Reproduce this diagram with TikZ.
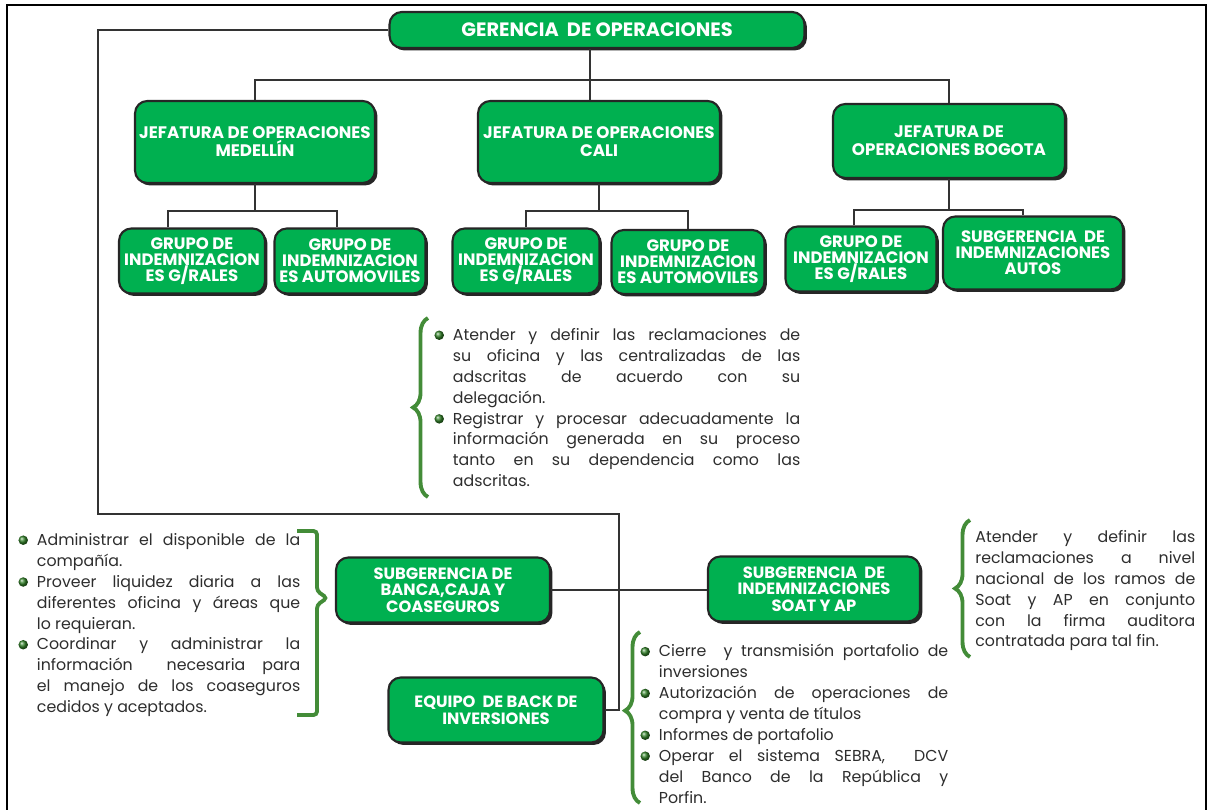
\documentclass[tikz,border=0pt]{standalone}
\usepackage{fontspec}
\setmainfont{Poppins}
\usetikzlibrary{shadows,decorations.pathreplacing}

\definecolor{cajaverde}{RGB}{0,176,80}
\definecolor{llaveverde}{RGB}{67,140,56}
\definecolor{bolaverde}{RGB}{50,130,40}
\definecolor{texto}{RGB}{45,45,45}

% vinetas verdes de las listas
\newcommand\bolita{\raisebox{0.05ex}{\tikz\shade[ball color=bolaverde] (0,0) circle (2.7pt);}}
\newlength\sangria
\setlength\sangria{10pt}
\newcommand\vineta{\noindent\leftskip=\sangria\llap{\makebox[\sangria][l]{\hspace{-0.5pt}\bolita}}}

\tikzset{
  caja/.style={draw=black!85, line width=1.2pt, fill=cajaverde, rounded corners=7pt,
    text=white, font=\bfseries\fontsize{9.3}{9.4}\selectfont, align=center, inner sep=2pt,
    drop shadow={shadow xshift=1.4pt, shadow yshift=-1.4pt, opacity=0.85, fill=black}},
  jefe/.style={caja, font=\bfseries\fontsize{9.5}{10.2}\selectfont},
  grupo/.style={caja, font=\bfseries\fontsize{9.4}{9.2}\selectfont},
  linea/.style={draw=black!80, line width=0.7pt},
  llave/.style={draw=llaveverde, line width=2.2pt, decorate, decoration={brace, amplitude=8.5pt}},
  lista/.style={anchor=north west, inner sep=0pt, text=texto, align=justify,
    font=\fontsize{9}{11.9}\selectfont},
}

\begin{document}
\begin{tikzpicture}[x=0.02cm, y=-0.02cm]
    \useasboundingbox (0,0) rectangle (1208,810);
    % Marco
    \draw[line width=1.6pt] (7,810) -- (7,5) -- (1206,5) -- (1206,810);

    % Gerencia y jefaturas
    \node[caja, minimum width=8.3cm, minimum height=0.72cm, font=\bfseries\fontsize{11}{12}\selectfont] (ger) at (597,30) {GERENCIA\ \ DE OPERACIONES};
    \node[jefe, minimum width=4.8cm, minimum height=1.64cm] (med) at (255,142) {JEFATURA DE OPERACIONES\\MEDELLÍN};
    \node[jefe, minimum width=4.84cm, minimum height=1.64cm] (cal) at (599,142) {JEFATURA DE OPERACIONES\\CALI};
    \node[jefe, minimum width=4.64cm, minimum height=1.48cm] (bog) at (949,141) {JEFATURA DE\\OPERACIONES BOGOTA};

    % Grupos
    \node[grupo, minimum width=2.92cm, minimum height=1.3cm] (medg) at (192,261) {GRUPO DE\\INDEMNIZACION\\ES G/RALES};
    \node[grupo, minimum width=3.02cm, minimum height=1.3cm] (meda) at (350,261) {GRUPO DE\\INDEMNIZACION\\ES AUTOMOVILES};
    \node[grupo, minimum width=2.94cm, minimum height=1.3cm] (calg) at (526,261) {GRUPO DE\\INDEMNIZACION\\ES G/RALES};
    \node[grupo, minimum width=3.06cm, minimum height=1.28cm] (cala) at (688,262) {GRUPO DE\\INDEMNIZACION\\ES AUTOMOVILES};
    \node[grupo, minimum width=3.02cm, minimum height=1.3cm] (bogg) at (861,259) {GRUPO DE\\INDEMNIZACION\\ES G/RALES};
    \node[grupo, minimum width=3.6cm, minimum height=1.46cm] (boga) at (1033,253) {SUBGERENCIA\ \ DE\\INDEMNIZACIONES\\AUTOS};

    % Subgerencias y equipo
    \node[caja, minimum width=4.28cm, minimum height=1.3cm] (banca) at (443,590) {SUBGERENCIA DE\\BANCA,CAJA Y\\COASEGUROS};
    \node[caja, minimum width=4.24cm, minimum height=1.3cm] (soat) at (814,589) {SUBGERENCIA\ \ DE\\INDEMNIZACIONES\\SOAT Y AP};
    \node[caja, minimum width=4.3cm, minimum height=1.3cm, font=\bfseries\fontsize{9.3}{9.8}\selectfont] (equipo) at (496,710) {EQUIPO\ \ DE BACK DE\\INVERSIONES};

    % Conectores
    \coordinate (barra) at (590,80);
    \draw[linea] (ger.south -| barra) -- (cal.north -| barra);
    \draw[linea] (med.north) |- (barra) -| (bog.north);
    \draw[linea] (med.south) -- ++(0,27) coordinate (bmed);
    \draw[linea] ([xshift=-0.48cm]medg.north) |- (bmed) -| ([xshift=-0.26cm]meda.north);
    \draw[linea] (cal.south) -- ++(0,27) coordinate (bcal);
    \draw[linea] (calg.north) |- (bcal) -| (cala.north);
    \draw[linea] (bog.south) -- ++(0,31) coordinate (bbog);
    \draw[linea] ([xshift=-0.14cm]bogg.north) |- (bbog) -| ([xshift=-0.2cm]boga.north);
    \coordinate (esq1) at (98,514);
    \coordinate (esq2) at (619,514);
    \draw[linea] (ger.west) -| (esq1) -- (esq2) |- (equipo.east);
    \draw[linea] (banca.east) -- (banca.east -| soat.west);

    % Listas
    \node[lista, text width=7.3cm] (lmed) at (435,328) {%
      \vineta Atender y definir las reclamaciones de\linebreak su oficina y las centralizadas de las\linebreak adscritas de acuerdo con su\linebreak delegación.\par
      \vineta Registrar y procesar adecuadamente la\linebreak información generada en su proceso\linebreak tanto en su dependencia como las\linebreak adscritas.\par};
    \node[lista, text width=5.62cm] (lban) at (19,533) {%
      \vineta Administrar el disponible de la\linebreak compañía.\par
      \vineta Proveer liquidez diaria a las\linebreak diferentes oficina y áreas que\linebreak lo requieran.\par
      \vineta Coordinar y administrar la\linebreak información\ \ necesaria para\linebreak el manejo de los coaseguros\linebreak cedidos y aceptados.\par};
    \node[lista, text width=4.4cm] (lsoat) at (975,530) {%
      \noindent Atender y definir las\linebreak reclamaciones a nivel\linebreak nacional de los ramos de\linebreak Soat y AP en conjunto\linebreak con la firma auditora\linebreak contratada para tal fin.};
    \node[lista, text width=6.14cm] (lequ) at (641,644) {%
      \vineta Cierre\ \ y transmisión portafolio de\linebreak inversiones\par
      \vineta Autorización de operaciones de\linebreak compra y venta de títulos\par
      \vineta Informes de portafolio\par
      \vineta Operar el sistema SEBRA,\ \ DCV\linebreak del Banco de la República y\linebreak Porfin.\par};

    % Llaves
    \draw[llave] (428,497) -- (428,318);
    \draw[llave] (970,657) -- (970,520);
    \draw[llave, decoration={aspect=0.54}] (640,803) -- (640,632);
    \draw[draw=llaveverde, line width=2.2pt, rounded corners=2pt] (297,531) -- (317,531) -- (317,591) -- (327,598) -- (317,605) -- (317,715) -- (297,715);
\end{tikzpicture}
\end{document}
